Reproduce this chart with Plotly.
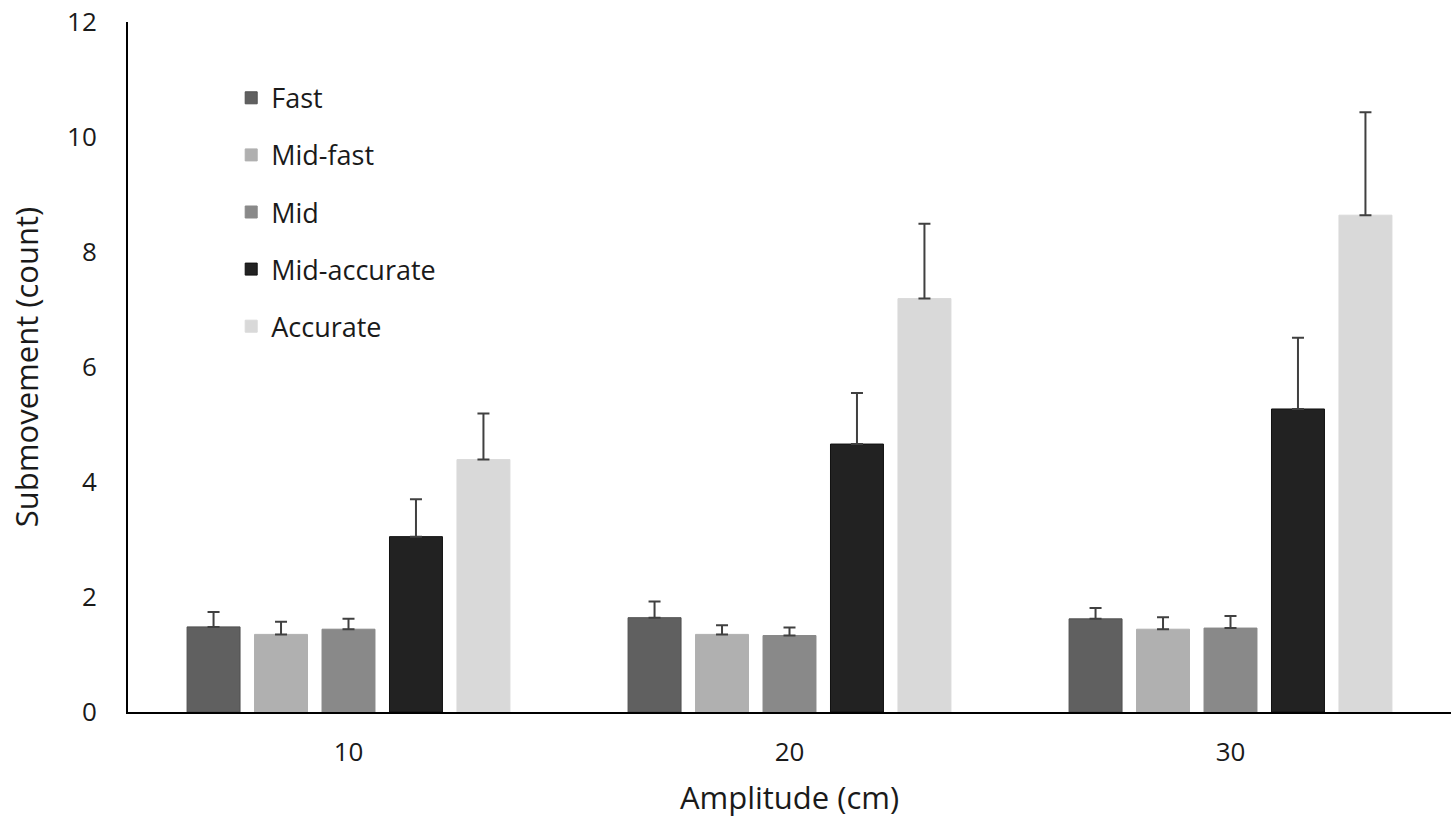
import plotly.graph_objects as go

amplitudes = ["10", "20", "30"]
series_names = ["Fast", "Mid-fast", "Mid", "Mid-accurate", "Accurate"]
fast = [1.48, 1.64, 1.62]
fast_err = [0.26, 0.28, 0.19]
mid_fast = [1.35, 1.35, 1.44]
mid_fast_err = [0.22, 0.16, 0.21]
mid = [1.44, 1.33, 1.46]
mid_err = [0.18, 0.14, 0.21]
mid_accurate = [3.05, 4.66, 5.27]
mid_accurate_err = [0.65, 0.89, 1.24]
accurate = [4.39, 7.19, 8.64]
accurate_err = [0.80, 1.30, 1.79]

values = [fast, mid_fast, mid, mid_accurate, accurate]
errors = [fast_err, mid_fast_err, mid_err, mid_accurate_err, accurate_err]
colors = ["#606060", "#b0b0b0", "#898989", "#222222", "#d9d9d9"]
outlines = ["#505050", "#b0b0b0", "#898989", "#111111", "#d9d9d9"]

FONT = "Open Sans"

fig = go.Figure()
for i, (name, v, e) in enumerate(zip(series_names, values, errors)):
    fig.add_trace(go.Bar(
        x=amplitudes, y=v, name=name,
        marker=dict(color=colors[i], line=dict(color=outlines[i], width=1)),
        error_y=dict(type="data", array=e, symmetric=False, arrayminus=[0]*len(e),
                     color="#404040", thickness=2, width=6),
        legendgroup=name,
    ))

fig.update_layout(
    width=1451, height=820,
    margin=dict(l=128, r=0, t=22, b=108),
    paper_bgcolor="white", plot_bgcolor="white",
    barmode="group", bargap=0.235, bargroupgap=0.215,
    font=dict(family=FONT, color="#1a1a1a", size=26),
    showlegend=True,
    legend=dict(x=0.078, y=0.925, xanchor="left", yanchor="top",
                font=dict(size=27, family=FONT, color="#1a1a1a"),
                traceorder="grouped", tracegroupgap=19,
                bgcolor="rgba(0,0,0,0)"),
    xaxis=dict(type="category", showline=True, linecolor="black", linewidth=2,
               ticks="", showgrid=False, tickfont=dict(size=26),
               ticklabelstandoff=16,
               title=dict(text="Amplitude (cm)", font=dict(size=31), standoff=19)),
    yaxis=dict(range=[0, 12], dtick=2, showline=True, linecolor="black", linewidth=2,
               ticks="", showgrid=False, zeroline=False, tickfont=dict(size=26),
               ticklabelstandoff=24,
               title=dict(text="Submovement (count)", font=dict(size=31), standoff=19)),
)

fig.write_html("out.html")
